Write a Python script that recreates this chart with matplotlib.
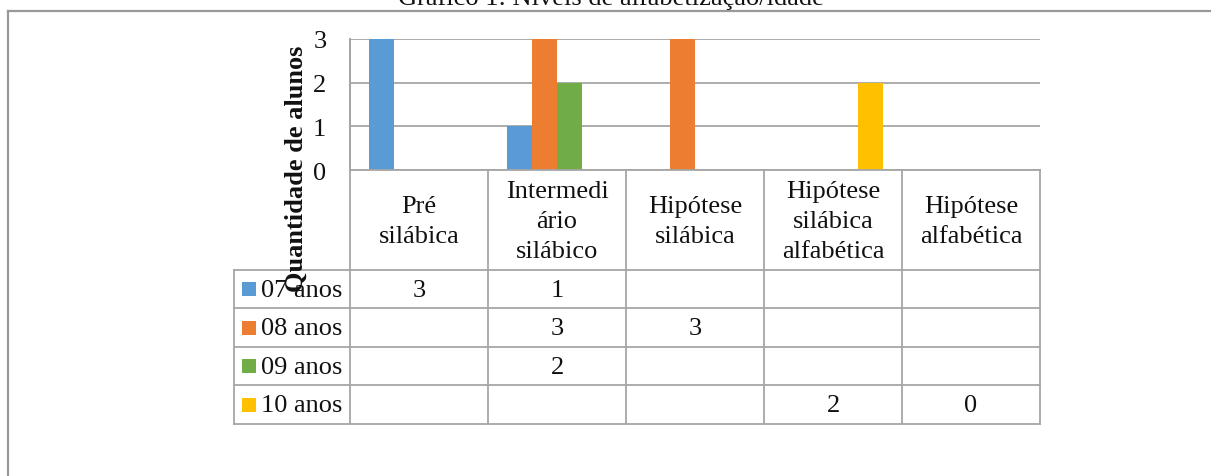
import matplotlib
matplotlib.use("Agg")
import matplotlib.pyplot as plt
import numpy as np

# data
categorias = ["Pré\nsilábica", "Intermedi\nário\nsilábico", "Hipótese\nsilábica",
              "Hipótese\nsilábica\nalfabética", "Hipótese\nalfabética"]
series = ["07 anos", "08 anos", "09 anos", "10 anos"]
anos_07 = [3, 1, None, None, None]
anos_08 = [None, 3, 3, None, None]
anos_09 = [None, 2, None, None, None]
anos_10 = [None, None, None, 2, 0]
valores = [anos_07, anos_08, anos_09, anos_10]
cores = ["#5B9BD5", "#ED7D31", "#70AD47", "#FFC000"]
titulo = "Gráfico 1: Níveis de alfabetização/idade"
eixo_y = "Quantidade de alunos"

plt.rcParams["font.family"] = ["Liberation Serif", "DejaVu Serif"]
FS = 19
GRID = "#a6a6a6"
TXT = "#111111"

W, H = 1211, 477
fig = plt.figure(figsize=(W / 100, H / 100), dpi=100)

# layout in pixels
left, right, top, base = 350, 1040, 40, 171
leg_left = 234
row_lines = [271, 309, 348, 386, 425]

ax = fig.add_axes([left / W, (H - base) / H, (right - left) / W, (base - top) / H])
n = len(categorias)
x = np.arange(n)
w = 25 / ((right - left) / n)
for i, (nome, vals, cor) in enumerate(zip(series, valores, cores)):
    alturas = [v if v is not None else 0 for v in vals]
    ax.bar(x + (i - 1.5) * w, alturas, width=w, color=cor, zorder=3)
ax.set_xlim(-0.5, n - 0.5)
ax.set_ylim(0, 3)
ax.set_yticks([0, 1, 2, 3])
ax.set_xticks([])
ax.yaxis.grid(True, color=GRID, linewidth=1.3, zorder=0)
for s in ["top", "right", "bottom"]:
    ax.spines[s].set_visible(False)
ax.spines["left"].set_color(GRID)
ax.spines["left"].set_linewidth(1.3)
ax.tick_params(axis="y", length=0, pad=17, labelsize=FS, labelcolor=TXT)

# overlay for table and frame
ov = fig.add_axes([0, 0, 1, 1], zorder=5)
ov.set_xlim(0, W)
ov.set_ylim(H, 0)
ov.axis("off")
ov.patch.set_alpha(0)

col_w = (right - left) / n
cols = [left + k * col_w for k in range(n + 1)]
lw = 1.3
ov.plot([left, right], [base, base], color=GRID, lw=lw)
for y in row_lines:
    ov.plot([leg_left, right], [y, y], color=GRID, lw=lw)
for k, cx in enumerate(cols):
    ov.plot([cx, cx], [base if k else top, row_lines[-1]], color=GRID, lw=lw)
ov.plot([leg_left, leg_left], [row_lines[0], row_lines[-1]], color=GRID, lw=lw)

# header text
for k, cat in enumerate(categorias):
    ov.text((cols[k] + cols[k + 1]) / 2, (base + row_lines[0]) / 2 + 1, cat,
            ha="center", va="center", fontsize=FS, linespacing=1.45, color=TXT)

# rows
for r, (nome, vals, cor) in enumerate(zip(series, valores, cores)):
    yc = (row_lines[r] + row_lines[r + 1]) / 2
    ov.add_patch(plt.Rectangle((242, yc - 7), 14, 14, color=cor, lw=0))
    ov.text(261, yc + 1, nome, ha="left", va="center", fontsize=FS, color=TXT)
    for k, v in enumerate(vals):
        if v is not None:
            ov.text((cols[k] + cols[k + 1]) / 2, yc + 1, str(v), ha="center", va="center",
                    fontsize=FS, color=TXT)

# y label
ov.text(296, 169, eixo_y, rotation=90, ha="center", va="center", fontsize=FS,
        fontweight="bold", color=TXT)

# outer frame and title
ov.plot([8, 8], [12, H], color="#999999", lw=1.6)
ov.plot([8, W], [12, 12], color="#999999", lw=1.6)
ov.text(611, 5, titulo, ha="center", va="baseline", fontsize=FS, color=TXT)

fig.savefig("out.png", dpi=100)
